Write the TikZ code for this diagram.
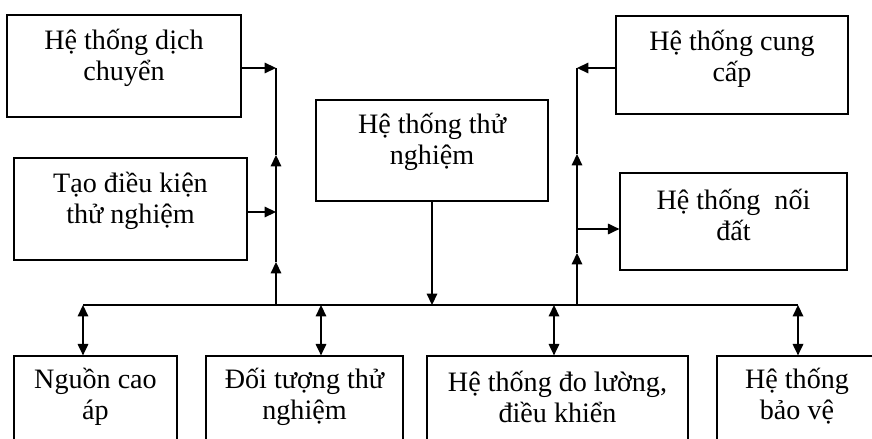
\documentclass[tikz,border=0pt]{standalone}
\usepackage{fontspec}
\setmainfont{Liberation Serif}
\usetikzlibrary{arrows.meta}
\tikzset{
  sysbox/.style={draw, line width=0.7pt, inner sep=0pt},
  boxtext/.style={align=center, inner sep=0pt, font=\fontsize{16}{17.6}\selectfont},
  wire/.style={line width=0.9pt},
  flow/.style={wire, -{Triangle[length=6.5pt,width=6pt]}},
  link/.style={wire, {Triangle[length=6.5pt,width=6pt]}-{Triangle[length=6.5pt,width=6pt]}}
}

\begin{document}
\begin{tikzpicture}[x=0.02cm, y=-0.02cm]
  \useasboundingbox (0,0) rectangle (872,439);
  \clip (0,0) rectangle (872,439);
  % Upper boxes
  \node[sysbox, minimum width=4.68cm, minimum height=2.04cm] (dich) at (124,66) {};
  \node[sysbox, minimum width=4.66cm, minimum height=2.04cm] (dieukien) at (130.5,209) {};
  \node[sysbox, minimum width=4.64cm, minimum height=2.02cm] (thunghiem) at (432,150.5) {};
  \node[sysbox, minimum width=4.64cm, minimum height=1.96cm] (cungcap) at (732,65) {};
  \node[sysbox, minimum width=4.54cm, minimum height=1.94cm] (noidat) at (733.5,221.5) {};
  \node[boxtext] (dichT) at (124,57.5) {Hệ thống dịch\\chuyển};
  \node[boxtext] (dieukienT) at (130.5,201) {Tạo điều kiện\\thử nghiệm};
  \node[boxtext] (thunghiemT) at (432,142) {Hệ thống thử\\nghiệm};
  \node[boxtext] (cungcapT) at (732,59) {Hệ thống cung\\cấp};
  \node[boxtext] (noidatT) at (733.5,215) {Hệ thống \ nối\\đất};
  % Lower boxes
  \node[sysbox, minimum width=3.26cm, minimum height=2cm] (nguon) at (95.5,406) {};
  \node[sysbox, minimum width=3.94cm, minimum height=2cm] (doituong) at (304.5,406) {};
  \node[sysbox, minimum width=5.22cm, minimum height=2cm] (doluong) at (557.5,406) {};
  \node[sysbox, minimum width=3.2cm, minimum height=2cm] (baove) at (797,406) {};
  \node[boxtext] (nguonT) at (95.5,396.5) {Nguồn cao\\áp};
  \node[boxtext] (doituongT) at (304.5,396.5) {Đối tượng thử\\nghiệm};
  \node[boxtext] (doluongT) at (557.5,396.5) {Hệ thống đo lường,\\điều khiển};
  \node[boxtext] (baoveT) at (797,396.5) {Hệ thống\\bảo vệ};
  % Bus and spines
  \coordinate (busW) at (83,305);
  \coordinate (busE) at (798,305);
  \coordinate (sL) at (276,305);
  \coordinate (sL1) at (276,262);
  \coordinate (sL2) at (276,155);
  \coordinate (aDich) at (276,68);
  \coordinate (aDieukien) at (276,212);
  \coordinate (sR) at (577,305);
  \coordinate (sR1) at (577,253);
  \coordinate (sR2) at (577,154);
  \coordinate (aCungcap) at (577,68);
  \coordinate (aNoidat) at (577,229);
  \draw[wire] (busW) -- (busE);
  \draw[flow] (thunghiem.south) -- (thunghiem.south |- busW);
  % Left spine
  \draw[flow] (sL) -- (sL1);
  \draw[flow] (sL1) -- (sL2);
  \draw[wire] (sL2) -- (aDich);
  \draw[flow] (aDich -| dich.east) -- (aDich);
  \draw[flow] (aDieukien -| dieukien.east) -- (aDieukien);
  % Right spine
  \draw[flow] (sR) -- (sR1);
  \draw[flow] (sR1) -- (sR2);
  \draw[wire] (sR2) -- (aCungcap);
  \draw[flow] (aCungcap -| cungcap.west) -- (aCungcap);
  \draw[flow] (aNoidat) -- (aNoidat -| noidat.west);
  % Links to lower boxes
  \foreach \b/\x in {nguon/83, doituong/321, doluong/554, baove/798} {
    \coordinate (t\b) at (\x,305);
    \draw[link] (t\b) -- (t\b |- \b.north);
  }
\end{tikzpicture}
\end{document}
